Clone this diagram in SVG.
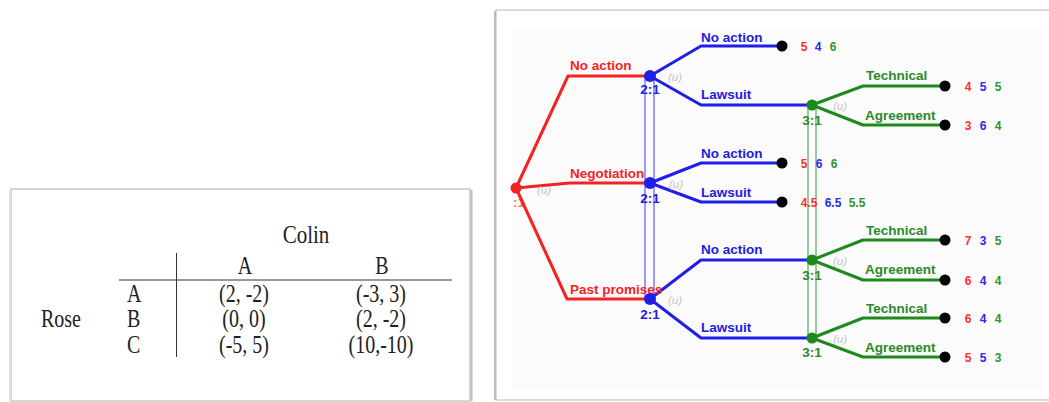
<svg xmlns="http://www.w3.org/2000/svg" width="1049" height="402" viewBox="0 0 1049 402">
<style>
.tt{font-family:"Liberation Serif","Times New Roman",serif;fill:#222;font-size:20px}
.lb{font-family:"Liberation Sans",Arial,sans-serif;font-weight:bold;font-size:13.5px}
.pf{font-family:"Liberation Sans",Arial,sans-serif;font-weight:bold;font-size:12px;text-anchor:middle}
.u{font-family:"Liberation Sans",Arial,sans-serif;font-style:italic;font-size:11.5px;fill:#c4c4c4}
.r{fill:#f52222}.b{fill:#2020e0}.g{fill:#2a8a2a}
.er{stroke:#f52222;stroke-width:3;fill:none;stroke-linejoin:round}
.eb{stroke:#1f1fe6;stroke-width:3;fill:none;stroke-linejoin:round}
.eg{stroke:#1e8a1e;stroke-width:3;fill:none;stroke-linejoin:round}
.pr{fill:#ff3030}.pb{fill:#2a2aee}.pg{fill:#2f952f}
</style>
<rect width="1049" height="402" fill="#ffffff"/>
<!-- Left table panel -->
<g id="table">
<rect x="11" y="189" width="459" height="212" fill="#ffffff" stroke="#c8c8c8" stroke-width="1.5"/>
<line x1="10" y1="190" x2="10" y2="401" stroke="#e2e2e2" stroke-width="2"/>
<line x1="471.5" y1="190" x2="471.5" y2="401" stroke="#bdbdbd" stroke-width="2"/>
<line x1="176.5" y1="253" x2="176.5" y2="357" stroke="#333" stroke-width="1"/>
<line x1="119" y1="280" x2="452" y2="280" stroke="#333" stroke-width="1"/>
<g class="tt">
<text transform="translate(306,243) scale(1,1.22)" text-anchor="middle" font-size="21">Colin</text>
<text transform="translate(245,274) scale(1,1.22)" text-anchor="middle">A</text>
<text transform="translate(382,274) scale(1,1.22)" text-anchor="middle">B</text>
<text transform="translate(41,327) scale(1,1.22)">Rose</text>
<text transform="translate(127,302) scale(1,1.22)">A</text>
<text transform="translate(127,327) scale(1,1.22)">B</text>
<text transform="translate(127,353) scale(1,1.22)">C</text>
<text transform="translate(244,302) scale(1,1.22)" text-anchor="middle">(2, -2)</text>
<text transform="translate(381,302) scale(1,1.22)" text-anchor="middle">(-3, 3)</text>
<text transform="translate(244,327) scale(1,1.22)" text-anchor="middle">(0, 0)</text>
<text transform="translate(381,327) scale(1,1.22)" text-anchor="middle">(2, -2)</text>
<text transform="translate(244,353) scale(1,1.22)" text-anchor="middle">(-5, 5)</text>
<text transform="translate(381,353) scale(1,1.22)" text-anchor="middle">(10,-10)</text>
</g>
</g>
<!-- Right tree panel -->
<g id="panel">
<rect x="496" y="10" width="560" height="390" fill="#ffffff" stroke="#cfcfcf" stroke-width="1.5"/>
<line x1="495" y1="11" x2="495" y2="400" stroke="#bcbcbc" stroke-width="2"/>
<rect x="512" y="28" width="531" height="362" fill="#fbfbfb"/>
</g>
<!-- information sets -->
<g id="infosets">
<rect x="645" y="76" width="9" height="223" fill="none" stroke="#5a5aff" stroke-width="1.2"/>
<rect x="808" y="105" width="8" height="232" fill="none" stroke="#5aaa5a" stroke-width="1.2"/>
</g>
<!-- connectors -->
<g id="connectors">
<path class="er" d="M516,188 L568,76 L650,76"/>
<path class="er" d="M516,188 L570,183 L650,183"/>
<path class="er" d="M516,188 L567,299 L650,299"/>
<path class="eb" d="M650,76 L701,46 L782,46"/>
<path class="eb" d="M650,76 L701,105 L812,105"/>
<path class="eb" d="M650,183 L701,163 L782,163"/>
<path class="eb" d="M650,183 L701,202 L782,202"/>
<path class="eb" d="M650,299 L701,260 L812,260"/>
<path class="eb" d="M650,299 L701,338 L812,338"/>
<path class="eg" d="M812,105 L863,86 L945,86"/>
<path class="eg" d="M812,105 L863,125 L945,125"/>
<path class="eg" d="M812,260 L863,240 L945,240"/>
<path class="eg" d="M812,260 L863,280 L945,280"/>
<path class="eg" d="M812,338 L863,318 L945,318"/>
<path class="eg" d="M812,338 L863,357 L945,357"/>
</g>
<!-- edge labels -->
<g id="edge-labels">
<text class="lb r" x="570" y="70">No action</text>
<text class="lb r" x="570" y="178">Negotiation</text>
<text class="lb r" x="570" y="294">Past promises</text>
<text class="lb b" x="701" y="42">No action</text>
<text class="lb b" x="701" y="99">Lawsuit</text>
<text class="lb b" x="701" y="158">No action</text>
<text class="lb b" x="701" y="197">Lawsuit</text>
<text class="lb b" x="701" y="254">No action</text>
<text class="lb b" x="701" y="332">Lawsuit</text>
<text class="lb g" x="866" y="80">Technical</text>
<text class="lb g" x="865" y="120">Agreement</text>
<text class="lb g" x="866" y="235">Technical</text>
<text class="lb g" x="865" y="274">Agreement</text>
<text class="lb g" x="866" y="313">Technical</text>
<text class="lb g" x="865" y="352">Agreement</text>
</g>
<!-- nodes -->
<g id="root">
<circle cx="516" cy="188" r="5.5" fill="#f52222"/>
<text class="lb r" x="519" y="207" text-anchor="middle" font-size="12" opacity="0.6">:1</text>
<text class="u" x="537" y="194">(u)</text>
</g>
<g id="node-2-1a"><circle cx="650" cy="76" r="6" fill="#1f1fe6"/><text class="lb b" x="650" y="94" text-anchor="middle" font-size="12.5">2:1</text><text class="u" x="668" y="81">(u)</text></g>
<g id="node-2-1b"><circle cx="650" cy="183" r="6" fill="#1f1fe6"/><text class="lb b" x="650" y="203" text-anchor="middle" font-size="12.5">2:1</text><text class="u" x="669" y="188">(u)</text></g>
<g id="node-2-1c"><circle cx="650" cy="299" r="6" fill="#1f1fe6"/><text class="lb b" x="650" y="319" text-anchor="middle" font-size="12.5">2:1</text><text class="u" x="668" y="304">(u)</text></g>
<g id="node-3-1a"><circle cx="812" cy="105" r="5.5" fill="#1e8a1e"/><text class="lb g" x="812" y="125" text-anchor="middle" font-size="12.5">3:1</text><text class="u" x="833" y="110">(u)</text></g>
<g id="node-3-1b"><circle cx="812" cy="260" r="5.5" fill="#1e8a1e"/><text class="lb g" x="812" y="280" text-anchor="middle" font-size="12.5">3:1</text><text class="u" x="833" y="265">(u)</text></g>
<g id="node-3-1c"><circle cx="812" cy="338" r="5.5" fill="#1e8a1e"/><text class="lb g" x="812" y="357" text-anchor="middle" font-size="12.5">3:1</text><text class="u" x="833" y="343">(u)</text></g>
<!-- terminals -->
<g id="t1"><circle cx="782" cy="46" r="5.5" fill="#000"/><text class="pf pr" x="804" y="51">5</text><text class="pf pb" x="818" y="51">4</text><text class="pf pg" x="833" y="51">6</text></g>
<g id="t2"><circle cx="782" cy="163" r="5.5" fill="#000"/><text class="pf pr" x="804" y="168">5</text><text class="pf pb" x="819" y="168">6</text><text class="pf pg" x="834" y="168">6</text></g>
<g id="t3"><circle cx="782" cy="202" r="5.5" fill="#000"/><text class="pf pr" x="809" y="207">4.5</text><text class="pf pb" x="833" y="207">6.5</text><text class="pf pg" x="857" y="207">5.5</text></g>
<g id="t4"><circle cx="945" cy="86" r="5.5" fill="#000"/><text class="pf pr" x="968" y="91">4</text><text class="pf pb" x="983" y="91">5</text><text class="pf pg" x="998" y="91">5</text></g>
<g id="t5"><circle cx="945" cy="125" r="5.5" fill="#000"/><text class="pf pr" x="968" y="130">3</text><text class="pf pb" x="983" y="130">6</text><text class="pf pg" x="998" y="130">4</text></g>
<g id="t6"><circle cx="945" cy="240" r="5.5" fill="#000"/><text class="pf pr" x="968" y="245">7</text><text class="pf pb" x="983" y="245">3</text><text class="pf pg" x="998" y="245">5</text></g>
<g id="t7"><circle cx="945" cy="280" r="5.5" fill="#000"/><text class="pf pr" x="968" y="285">6</text><text class="pf pb" x="983" y="285">4</text><text class="pf pg" x="998" y="285">4</text></g>
<g id="t8"><circle cx="945" cy="318" r="5.5" fill="#000"/><text class="pf pr" x="968" y="323">6</text><text class="pf pb" x="983" y="323">4</text><text class="pf pg" x="998" y="323">4</text></g>
<g id="t9"><circle cx="945" cy="357" r="5.5" fill="#000"/><text class="pf pr" x="968" y="362">5</text><text class="pf pb" x="983" y="362">5</text><text class="pf pg" x="998" y="362">3</text></g>
</svg>
